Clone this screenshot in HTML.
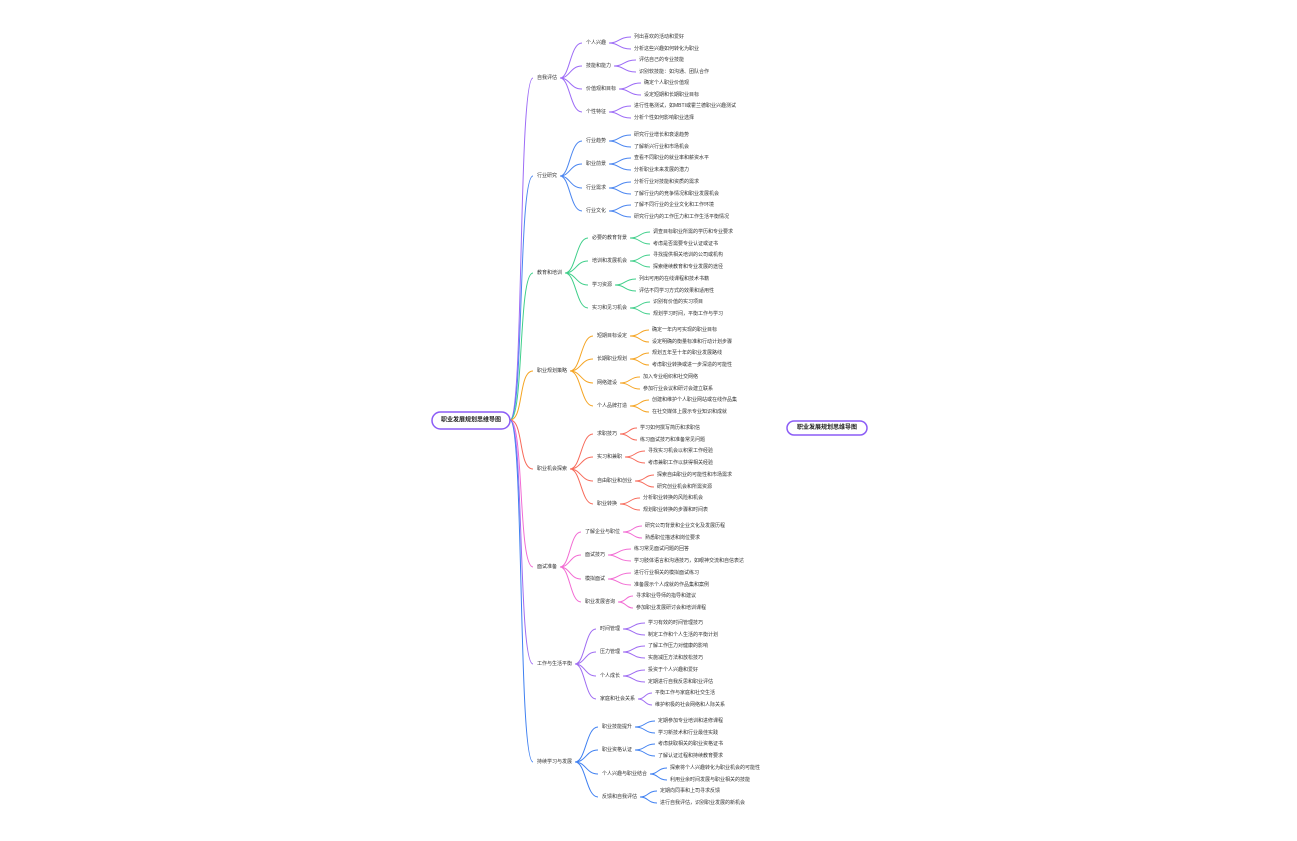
<!DOCTYPE html>
<html><head><meta charset="utf-8"><style>
html,body{margin:0;padding:0;background:#fff;}
svg{display:block;}
text{font-family:"Liberation Sans","Noto Sans CJK SC",sans-serif;font-size:5px;fill:#333;dominant-baseline:central;}
.r{font-size:6px;font-weight:bold;fill:#222;text-anchor:middle;}
</style></head><body>
<svg width="1297" height="841" viewBox="0 0 1297 841" xmlns="http://www.w3.org/2000/svg">
<g fill="none" stroke-width="1">
<!-- trunk -->
<path stroke="#9d6cf6" d="M510 420C524 420 518 78 533 78"/>
<path stroke="#4b86f0" d="M510 420C524 420 518 176 533 176"/>
<path stroke="#3fcf8a" d="M510 420C524 420 518 273 533 273"/>
<path stroke="#f5a524" d="M510 420C524 420 518 371 533 371"/>
<path stroke="#f76b5b" d="M510 420C524 420 518 469 533 469"/>
<path stroke="#f26bd3" d="M510 420C524 420 518 567 533 567"/>
<path stroke="#9f6cf2" d="M510 420C524 420 518 664 533 664"/>
<path stroke="#3f80f1" d="M510 420C524 420 518 762 533 762"/>
<!-- B1 -->
<g stroke="#9d6cf6">
<path d="M560 78C570 78 570 43 582 43M560 78C570 78 570 66 582 66M560 78C570 78 570 89 582 89M560 78C570 78 570 112 582 112"/>
<path d="M609 43C619 43 619 37 631 37M609 43C619 43 619 49 631 49M614 66C624 66 624 60 636 60M614 66C624 66 624 72 636 72M619 89C629 89 629 83 641 83M619 89C629 89 629 95 641 95M609 112C619 112 619 106 631 106M609 112C619 112 619 118 631 118"/>
</g>
<!-- B2 -->
<g stroke="#4b86f0">
<path d="M560 176C570 176 570 141 582 141M560 176C570 176 570 164 582 164M560 176C570 176 570 188 582 188M560 176C570 176 570 211 582 211"/>
<path d="M609 141C619 141 619 135 631 135M609 141C619 141 619 147 631 147M609 164C619 164 619 158 631 158M609 164C619 164 619 170 631 170M609 188C619 188 619 182 631 182M609 188C619 188 619 194 631 194M609 211C619 211 619 205 631 205M609 211C619 211 619 217 631 217"/>
</g>
<!-- B3 -->
<g stroke="#3fcf8a">
<path d="M565 273C576 273 576 238 588 238M565 273C576 273 576 261 588 261M565 273C576 273 576 285 588 285M565 273C576 273 576 308 588 308"/>
<path d="M630 238C640 238 640 232 650 232M630 238C640 238 640 244 650 244M630 261C640 261 640 255 650 255M630 261C640 261 640 267 650 267M615 285C625 285 625 279 636 279M615 285C625 285 625 291 636 291M630 308C640 308 640 302 650 302M630 308C640 308 640 314 650 314"/>
</g>
<!-- B4 -->
<g stroke="#f5a524">
<path d="M570 371C581 371 581 336 593 336M570 371C581 371 581 359 593 359M570 371C581 371 581 383 593 383M570 371C581 371 581 406 593 406"/>
<path d="M630 336C640 336 640 330 649 330M630 336C640 336 640 342 649 342M630 359C640 359 640 353 649 353M630 359C640 359 640 365 649 365M620 383C630 383 630 377 640 377M620 383C630 383 630 389 640 389M630 406C640 406 640 400 649 400M630 406C640 406 640 412 649 412"/>
</g>
<!-- B5 -->
<g stroke="#f76b5b">
<path d="M570 469C581 469 581 434 593 434M570 469C581 469 581 457 593 457M570 469C581 469 581 481 593 481M570 469C581 469 581 504 593 504"/>
<path d="M620 434C629 434 629 428 637 428M620 434C629 434 629 440 637 440M625 457C635 457 635 451 645 451M625 457C635 457 635 463 645 463M635 481C645 481 645 475 654 475M635 481C645 481 645 487 654 487M620 504C630 504 630 498 640 498M620 504C630 504 630 510 640 510"/>
</g>
<!-- B6 -->
<g stroke="#f26bd3">
<path d="M560 567C570 567 570 532 581 532M560 567C570 567 570 555 581 555M560 567C570 567 570 579 581 579M560 567C570 567 570 602 581 602"/>
<path d="M623 532C633 532 633 526 642 526M623 532C633 532 633 538 642 538M608 555C618 555 618 549 631 549M608 555C618 555 618 561 631 561M608 579C618 579 618 573 631 573M608 579C618 579 618 585 631 585M618 602C626 602 626 596 633 596M618 602C626 602 626 608 633 608"/>
</g>
<!-- B7 -->
<g stroke="#9f6cf2">
<path d="M575 664C585 664 585 629 596 629M575 664C585 664 585 652 596 652M575 664C585 664 585 676 596 676M575 664C585 664 585 699 596 699"/>
<path d="M623 629C633 629 633 623 645 623M623 629C633 629 633 635 645 635M623 652C633 652 633 646 645 646M623 652C633 652 633 658 645 658M623 676C633 676 633 670 645 670M623 676C633 676 633 682 645 682M638 699C645 699 645 693 652 693M638 699C645 699 645 705 652 705"/>
</g>
<!-- B8 -->
<g stroke="#3f80f1">
<path d="M575 762C586 762 586 727 598 727M575 762C586 762 586 750 598 750M575 762C586 762 586 774 598 774M575 762C586 762 586 797 598 797"/>
<path d="M635 727C645 727 645 721 655 721M635 727C645 727 645 733 655 733M635 750C645 750 645 744 655 744M635 750C645 750 645 756 655 756M650 774C658 774 658 768 667 768M650 774C658 774 658 780 667 780M640 797C648 797 648 791 657 791M640 797C648 797 648 803 657 803"/>
</g>
</g>

<rect x="432" y="412" width="78" height="17" rx="8.5" fill="#fff" stroke="#8b5cf6" stroke-width="1.5"/>
<text class="r" x="471" y="420.5">职业发展规划思维导图</text>
<rect x="787" y="421" width="80" height="14" rx="7" fill="#fff" stroke="#8b5cf6" stroke-width="1.5"/>
<text class="r" x="827" y="428">职业发展规划思维导图</text>

<!-- L1 -->
<text x="537" y="78">自我评估</text>
<text x="537" y="176">行业研究</text>
<text x="537" y="273">教育和培训</text>
<text x="537" y="371">职业规划策略</text>
<text x="537" y="469">职业机会探索</text>
<text x="537" y="567">面试准备</text>
<text x="537" y="664">工作与生活平衡</text>
<text x="537" y="762">持续学习与发展</text>

<!-- B1 -->
<text x="586" y="43">个人兴趣</text>
<text x="586" y="66">技能和能力</text>
<text x="586" y="89">价值观和目标</text>
<text x="586" y="112">个性特征</text>
<text x="634" y="37">列出喜欢的活动和爱好</text>
<text x="634" y="49">分析这些兴趣如何转化为职业</text>
<text x="639" y="60">评估自己的专业技能</text>
<text x="639" y="72">识别软技能：如沟通、团队合作</text>
<text x="644" y="83">确定个人职业价值观</text>
<text x="644" y="95">设定短期和长期职业目标</text>
<text x="634" y="106">进行性格测试，如MBTI或霍兰德职业兴趣测试</text>
<text x="634" y="118">分析个性如何影响职业选择</text>
<!-- B2 -->
<text x="586" y="141">行业趋势</text>
<text x="586" y="164">职业前景</text>
<text x="586" y="188">行业需求</text>
<text x="586" y="211">行业文化</text>
<text x="634" y="135">研究行业增长和衰退趋势</text>
<text x="634" y="147">了解新兴行业和市场机会</text>
<text x="634" y="158">查看不同职业的就业率和薪资水平</text>
<text x="634" y="170">分析职业未来发展的潜力</text>
<text x="634" y="182">分析行业对技能和资质的需求</text>
<text x="634" y="194">了解行业内的竞争情况和职业发展机会</text>
<text x="634" y="205">了解不同行业的企业文化和工作环境</text>
<text x="634" y="217">研究行业内的工作压力和工作生活平衡情况</text>
<!-- B3 -->
<text x="592" y="238">必要的教育背景</text>
<text x="592" y="261">培训和发展机会</text>
<text x="592" y="285">学习资源</text>
<text x="592" y="308">实习和见习机会</text>
<text x="653" y="232">调查目标职业所需的学历和专业要求</text>
<text x="653" y="244">考虑是否需要专业认证或证书</text>
<text x="653" y="255">寻找提供相关培训的公司或机构</text>
<text x="653" y="267">探索继续教育和专业发展的途径</text>
<text x="639" y="279">列出可用的在线课程和技术书籍</text>
<text x="639" y="291">评估不同学习方式的效果和适用性</text>
<text x="653" y="302">识别有价值的实习项目</text>
<text x="653" y="314">规划学习时间，平衡工作与学习</text>
<!-- B4 -->
<text x="597" y="336">短期目标设定</text>
<text x="597" y="359">长期职业规划</text>
<text x="597" y="383">网络建设</text>
<text x="597" y="406">个人品牌打造</text>
<text x="652" y="330">确定一年内可实现的职业目标</text>
<text x="652" y="342">设定明确的衡量标准和行动计划步骤</text>
<text x="652" y="353">规划五年至十年的职业发展路线</text>
<text x="652" y="365">考虑职业转换或进一步深造的可能性</text>
<text x="643" y="377">加入专业组织和社交网络</text>
<text x="643" y="389">参加行业会议和研讨会建立联系</text>
<text x="652" y="400">创建和维护个人职业网站或在线作品集</text>
<text x="652" y="412">在社交媒体上展示专业知识和成就</text>
<!-- B5 -->
<text x="597" y="434">求职技巧</text>
<text x="597" y="457">实习和兼职</text>
<text x="597" y="481">自由职业和创业</text>
<text x="597" y="504">职业转换</text>
<text x="640" y="428">学习如何撰写简历和求职信</text>
<text x="640" y="440">练习面试技巧和准备常见问题</text>
<text x="648" y="451">寻找实习机会以积累工作经验</text>
<text x="648" y="463">考虑兼职工作以获得相关经验</text>
<text x="657" y="475">探索自由职业的可能性和市场需求</text>
<text x="657" y="487">研究创业机会和所需资源</text>
<text x="643" y="498">分析职业转换的风险和机会</text>
<text x="643" y="510">规划职业转换的步骤和时间表</text>
<!-- B6 -->
<text x="585" y="532">了解企业与职位</text>
<text x="585" y="555">面试技巧</text>
<text x="585" y="579">模拟面试</text>
<text x="585" y="602">职业发展咨询</text>
<text x="645" y="526">研究公司背景和企业文化及发展历程</text>
<text x="645" y="538">熟悉职位描述和岗位要求</text>
<text x="634" y="549">练习常见面试问题的回答</text>
<text x="634" y="561">学习肢体语言和沟通技巧，如眼神交流和自信表达</text>
<text x="634" y="573">进行行业相关的模拟面试练习</text>
<text x="634" y="585">准备展示个人成就的作品集和案例</text>
<text x="636" y="596">寻求职业导师的指导和建议</text>
<text x="636" y="608">参加职业发展研讨会和培训课程</text>
<!-- B7 -->
<text x="600" y="629">时间管理</text>
<text x="600" y="652">压力管理</text>
<text x="600" y="676">个人成长</text>
<text x="600" y="699">家庭和社会关系</text>
<text x="648" y="623">学习有效的时间管理技巧</text>
<text x="648" y="635">制定工作和个人生活的平衡计划</text>
<text x="648" y="646">了解工作压力对健康的影响</text>
<text x="648" y="658">实施减压方法和放松技巧</text>
<text x="648" y="670">投资于个人兴趣和爱好</text>
<text x="648" y="682">定期进行自我反思和职业评估</text>
<text x="655" y="693">平衡工作与家庭和社交生活</text>
<text x="655" y="705">维护积极的社会网络和人际关系</text>
<!-- B8 -->
<text x="602" y="727">职业技能提升</text>
<text x="602" y="750">职业资格认证</text>
<text x="602" y="774">个人兴趣与职业结合</text>
<text x="602" y="797">反馈和自我评估</text>
<text x="658" y="721">定期参加专业培训和进修课程</text>
<text x="658" y="733">学习新技术和行业最佳实践</text>
<text x="658" y="744">考虑获取相关的职业资格证书</text>
<text x="658" y="756">了解认证过程和持续教育要求</text>
<text x="670" y="768">探索将个人兴趣转化为职业机会的可能性</text>
<text x="670" y="780">利用业余时间发展与职业相关的技能</text>
<text x="660" y="791">定期向同事和上司寻求反馈</text>
<text x="660" y="803">进行自我评估，识别职业发展的新机会</text>
</svg>
</body></html>
